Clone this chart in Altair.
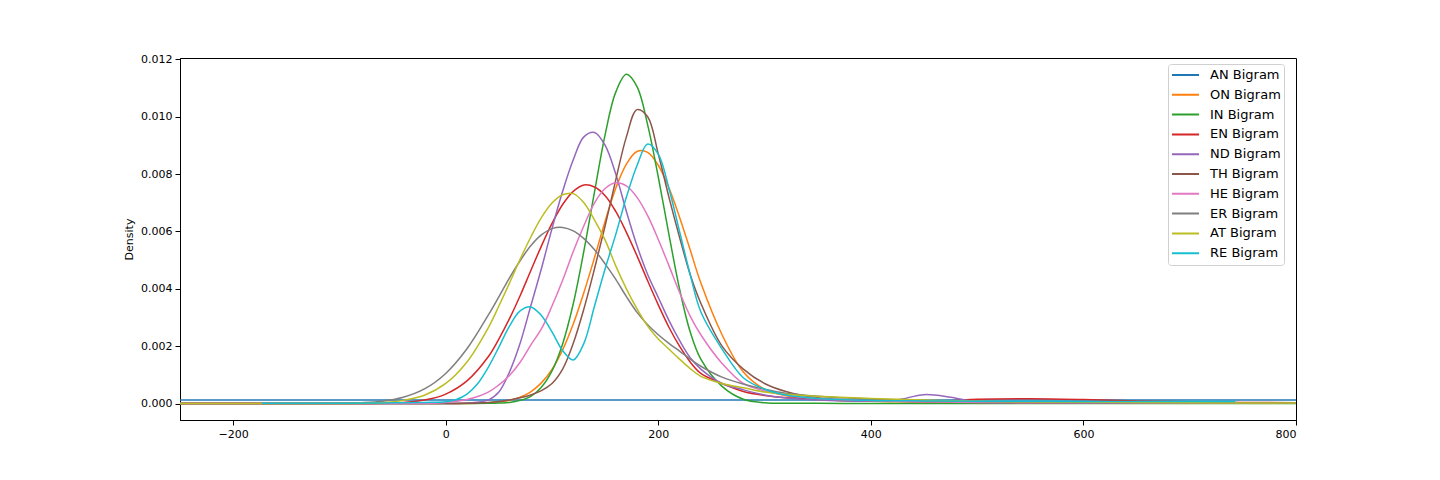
import altair as alt
import pandas as pd

NAMES = ["AN Bigram", "ON Bigram", "IN Bigram", "EN Bigram", "ND Bigram",
         "TH Bigram", "HE Bigram", "ER Bigram", "AT Bigram", "RE Bigram"]
COLORS = ["#1f77b4", "#ff7f0e", "#2ca02c", "#d62728", "#9467bd",
          "#8c564b", "#e377c2", "#7f7f7f", "#bcbd22", "#17becf"]

X_TICKS = [-200, 0, 200, 400, 600, 800]
Y_TICKS = [0.0, 0.002, 0.004, 0.006, 0.008, 0.010, 0.012]

# shared evaluation grid (x) for most series
X = [-250, -200, -150, -100, -80, -60, -40, -20, 0, 20, 40, 50,
     60, 70, 80, 90, 100, 110, 120, 130, 140, 150, 160, 170, 180, 190,
     200, 210, 220, 230, 240, 260, 280, 300, 320, 350, 400, 425, 450,
     475, 500, 550, 600, 650, 700, 750, 800]

AN_X = [-250, 0, 200, 400, 600, 800]
AN = [0.000125, 0.000125, 0.000125, 0.000125, 0.000125, 0.000125]

ON = [0, 0, 0, 0, 0, 0, 0, 0, 0, 0.000005, 0.00003, 0.00006,
      0.00011, 0.00022, 0.00041, 0.00072, 0.00119, 0.00187, 0.00277, 0.00387,
      0.00509, 0.00636, 0.00751, 0.00835, 0.00879, 0.00876, 0.00831, 0.00752,
      0.0065, 0.00536, 0.00421,
      0.0024, 0.0011, 0.0005, 0.00027, 0.00014,
      0.00008, 0.00006, 0.00005, 0.00004, 0.00004,
      0.00003, 0.00003, 0.00002, 0.00002, 0.00001, 0.00001]

IN = [0, 0, 0, 0, 0, 0, 0, 0, 0, 0, 0.00001, 0.00002,
      0.00004, 0.00011, 0.00025, 0.00057, 0.00114, 0.00208, 0.00348, 0.00532,
      0.00738, 0.00938, 0.01086, 0.01148, 0.01105, 0.00972, 0.0079, 0.0059,
      0.004, 0.0025, 0.00155,
      0.0006, 0.00015, 0.00003, 0.00001, 0.00001,
      0, 0, 0, 0, 0,
      0, 0, 0, 0, 0, 0]

EN = [0, 0, 0, 0, 0, 0.00001, 0.00004, 0.00012, 0.00033, 0.00079, 0.00163, 0.00225,
      0.00296, 0.00376, 0.00463, 0.00549, 0.00628, 0.00694, 0.0074, 0.00762,
      0.00755, 0.00725, 0.0067, 0.00597, 0.00515, 0.00428, 0.00344, 0.00266,
      0.002, 0.00145, 0.00105,
      0.0007, 0.00042, 0.00028, 0.0002, 0.00015,
      0.0001, 0.00008, 0.00008, 0.0001, 0.00015,
      0.00017, 0.00014, 0.00009, 0.00006, 0.00004, 0.00003]

ND = [0, 0, 0, 0, 0, 0, 0, 0, 0, 0.00002, 0.00012, 0.0004,
      0.0011, 0.0021, 0.0034, 0.0047, 0.0061, 0.0074, 0.0085, 0.0093,
      0.00945, 0.009, 0.008, 0.0067, 0.0055, 0.0045, 0.0037, 0.0029,
      0.0022, 0.0016, 0.0012,
      0.0007, 0.00048, 0.0003, 0.0002, 0.00012,
      0.00008, 0.00013, 0.00031, 0.00022, 0.00005,
      0.00003, 0.00002, 0.00002, 0.00001, 0.00001, 0.00001]

TH = [0, 0, 0, 0, 0, 0, 0, 0, 0, 0.00001, 0.00004, 0.00007,
      0.00012, 0.0002, 0.0003, 0.00045, 0.0007, 0.0012, 0.0021, 0.0033,
      0.0047, 0.0062, 0.0078, 0.0093, 0.01025, 0.01, 0.0087, 0.0072,
      0.0058, 0.0045, 0.0035,
      0.002, 0.0012, 0.0007, 0.00042, 0.0002,
      0.0001, 0.00008, 0.00006, 0.00005, 0.00004,
      0.00003, 0.00003, 0.00002, 0.00002, 0.00001, 0.00001]

HE = [0, 0, 0, 0, 0, 0, 0, 0.00001, 0.00004, 0.00014, 0.0004, 0.00065,
      0.00098, 0.00144, 0.00204, 0.0026, 0.0034, 0.0043, 0.0053, 0.0062,
      0.007, 0.0075, 0.0077, 0.00759, 0.00719, 0.00655, 0.00572, 0.00481,
      0.00388, 0.00305, 0.0024,
      0.0014, 0.0007, 0.00044, 0.0003, 0.00018,
      0.0001, 0.00008, 0.00006, 0.00005, 0.00004,
      0.00003, 0.00003, 0.00002, 0.00002, 0.00001, 0.00001]

ER = [0, 0, 0, 0.00001, 0.00003, 0.00008, 0.00022, 0.00051, 0.00105, 0.00191, 0.00308, 0.00372,
      0.00438, 0.00498, 0.0055, 0.00588, 0.0061, 0.00614, 0.00602, 0.00575,
      0.00536, 0.00487, 0.00433, 0.00373, 0.00318, 0.00275, 0.0024, 0.0021,
      0.00183, 0.00155, 0.0013,
      0.00092, 0.00068, 0.0005, 0.00036, 0.00025,
      0.00015, 0.00012, 0.0001, 0.00008, 0.00007,
      0.00005, 0.00004, 0.00003, 0.00003, 0.00002, 0.00002]

AT = [0, 0, 0, 0, 0.00001, 0.00003, 0.00011, 0.00029, 0.0007, 0.00145, 0.00264, 0.0034,
      0.0042, 0.00503, 0.0058, 0.00648, 0.00699, 0.00728, 0.00732, 0.007,
      0.0064, 0.0057, 0.0048, 0.004, 0.0033, 0.0027, 0.00225, 0.0019,
      0.00155, 0.00122, 0.00095,
      0.0007, 0.00055, 0.0004, 0.00032, 0.00025,
      0.00018, 0.00015, 0.00012, 0.0001, 0.00008,
      0.00006, 0.00005, 0.00004, 0.00003, 0.00002, 0.00002]

RE_X = [-173, -150, -100, -60, -40, -20, 0, 10, 20, 30, 40, 50, 60, 70, 80, 90,
        100, 110, 120, 130, 140, 150, 160, 170, 180, 190, 200, 210, 220, 230,
        240, 260, 280, 300, 320, 350, 400, 450, 500, 550, 600, 650, 700, 743]
RE = [0.00001, 0.00001, 0.00001, 0.00002, 0.00003, 0.00004, 0.00006, 0.00014,
      0.00033, 0.00069, 0.00126, 0.00197, 0.0027, 0.00323, 0.00337, 0.00307,
      0.0025, 0.00185, 0.00152, 0.0021, 0.0034, 0.0047, 0.0059, 0.0072,
      0.0083, 0.00905, 0.0087, 0.0075, 0.006, 0.0045,
      0.0032, 0.0019, 0.0009, 0.0005, 0.0003, 0.00018, 0.00011, 0.00009,
      0.00008, 0.00008, 0.00007, 0.00007, 0.00007, 0.00007]

SERIES = [(NAMES[0], AN_X, AN), (NAMES[1], X, ON), (NAMES[2], X, IN),
          (NAMES[3], X, EN), (NAMES[4], X, ND), (NAMES[5], X, TH),
          (NAMES[6], X, HE), (NAMES[7], X, ER), (NAMES[8], X, AT),
          (NAMES[9], RE_X, RE)]

FONT = "DejaVu Sans"

x_enc = alt.X("x:Q",
              scale=alt.Scale(domain=[-250, 800], nice=False, zero=False),
              axis=alt.Axis(values=X_TICKS, format="d", title=None))
y_enc = alt.Y("y:Q",
              scale=alt.Scale(domain=[-0.000574, 0.01205], nice=False, zero=False),
              axis=alt.Axis(values=Y_TICKS, format=".3f", title="Density"))
color_enc = alt.Color(
    "series:N",
    scale=alt.Scale(domain=NAMES, range=COLORS),
    legend=alt.Legend(
        title=None, orient="none", legendX=988, legendY=6,
        symbolType="stroke", symbolSize=729, symbolStrokeWidth=2,
        labelFontSize=13, labelFont=FONT, labelColor="black",
        fillColor="white", strokeColor="#d0d0d0", padding=3,
        cornerRadius=3, clipHeight=16, rowPadding=3.8,
        labelOffset=10,
    ),
)

layers = []
for name, xs, ys in SERIES:
    df = pd.DataFrame({"x": xs, "y": ys, "series": name})
    layers.append(
        alt.Chart(df).mark_line(strokeWidth=1.5, interpolate="catmull-rom", clip=True)
        .encode(x=x_enc, y=y_enc, color=color_enc)
    )

chart = (
    alt.layer(*layers)
    .properties(width=1116, height=362, autosize="none",
                padding={"left": 172, "top": 50, "right": 124, "bottom": 44})
    .configure_view(stroke="black", strokeWidth=1)
    .configure_axis(
        domainColor="black", tickColor="black", labelColor="black",
        titleColor="black", labelFont=FONT, titleFont=FONT,
        labelFontSize=11, titleFontSize=11, titleFontWeight="normal",
        grid=False, tickSize=5, labelPadding=3, titlePadding=6,
    )
)

chart.save("out.html", embed_options={"renderer": "svg", "actions": False})
